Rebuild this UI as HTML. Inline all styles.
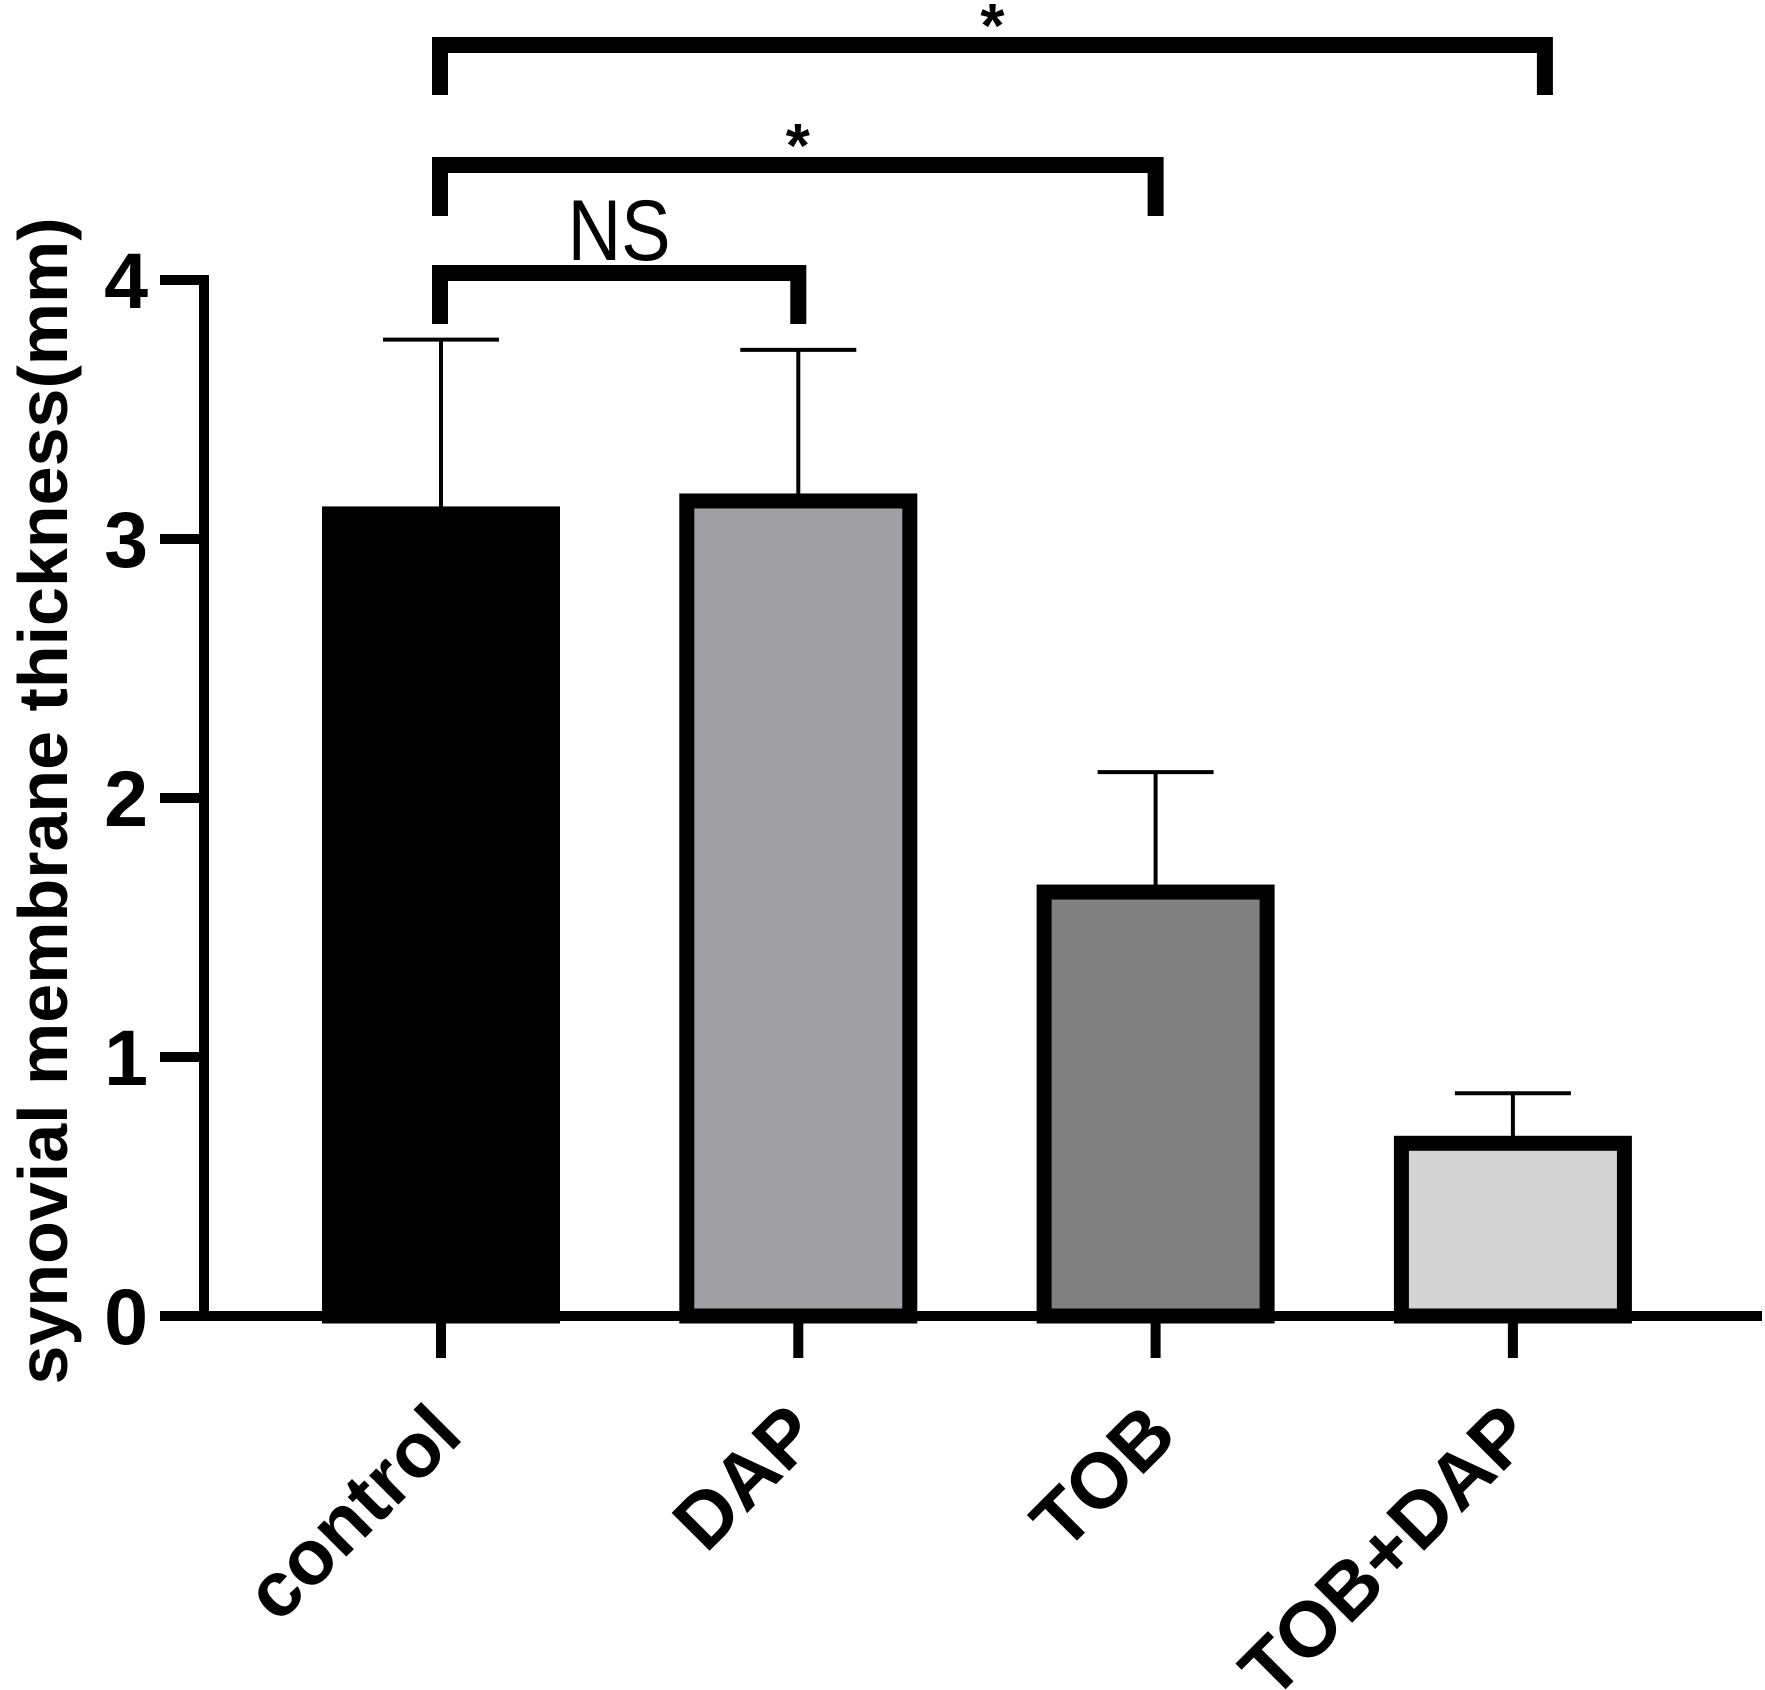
<!DOCTYPE html>
<html><head><meta charset="utf-8"><style>
html,body{margin:0;padding:0;background:#fff;}
svg{display:block;font-family:"Liberation Sans",Arial,sans-serif;}
</style></head><body>
<svg id="chart" width="1765" height="1690" viewBox="0 0 1765 1690" xmlns="http://www.w3.org/2000/svg">
<g id="plot"></g>
</svg>
<script>
const categories = ["control","DAP","TOB","TOB+DAP"];
const means = [3.12, 3.17, 1.66, 0.69];
const errors = [0.65, 0.56, 0.44, 0.17];
const fills = ["#000000","#a0a0a4","#808080","#d3d3d3"];
const yTicks = [0,1,2,3,4];
const yTickLabels = ["0","1","2","3","4"];
const comparisons = [
  {from:0, to:1, label:"NS"},
  {from:0, to:2, label:"*"},
  {from:0, to:3, label:"*"}
];

const NS="http://www.w3.org/2000/svg";
const svg=document.getElementById('plot');
const y0=1316, unit=259;
function yScale(v){return y0-v*unit;}
function xScale(i){return 441+i*357.3;}
function mk(tag,attrs,parent){const e=document.createElementNS(NS,tag);for(const k in attrs)e.setAttribute(k,attrs[k]);(parent||svg).appendChild(e);return e;}

// bars
categories.forEach((c,i)=>{
  const cx=xScale(i), w=223, top=yScale(means[i])+6;
  const g=mk('g',{});
  
  
  const r=mk('rect',{x:cx-w/2,y:top,width:w,height:y0-top,fill:fills[i],stroke:'#000','stroke-width':15},g);
  
  
  const et=yScale(means[i]+errors[i]);
  const l=mk('line',{x1:cx,x2:cx,y1:top-7,y2:et,stroke:'#000','stroke-width':4},g);
  
  
  const cap=mk('line',{x1:cx-58,x2:cx+58,y1:et,y2:et,stroke:'#000','stroke-width':4},g);
  
  
});

// axes
const ya=mk('line',{x1:204,x2:204,y1:yScale(4)-5,y2:y0+5,stroke:'#000','stroke-width':10});


const xa=mk('line',{x1:160,x2:1762,y1:y0,y2:y0,stroke:'#000','stroke-width':10});



yTicks.forEach((v,i)=>{
  const t=mk('line',{x1:160,x2:208,y1:yScale(v),y2:yScale(v),stroke:'#000','stroke-width':10});
  
  
  const tx=mk('text',{x:148,y:yScale(v)+28,'text-anchor':'end','font-size':79,'font-weight':'bold'});
  tx.textContent=yTickLabels[i];
  
  
});

categories.forEach((c,i)=>{
  const cx=xScale(i);
  const t=mk('line',{x1:cx,x2:cx,y1:y0,y2:1358,stroke:'#000','stroke-width':10});
  
  
  const ax=cx+24, ay=1438;
  const tx=mk('text',{x:ax,y:ay,'text-anchor':'end','font-size':78,'font-weight':'bold',transform:'rotate(-45 '+ax+' '+ay+')'});
  tx.textContent=c;
  
  
});

// y title
const yt=mk('text',{x:0,y:0,'text-anchor':'middle','font-size':70,'font-weight':'bold',transform:'translate(67 801) rotate(-90)'});
yt.textContent='synovial membrane thickness(mm)';



// significance brackets
const bracketY=[273,165,45];
const legBottom=[324,216,95];
comparisons.forEach((cmp,k)=>{
  const xl=xScale(cmp.from)-1, xr=xScale(cmp.to)+(k===2?32:0);
  const yb=bracketY[k];
  const p=mk('path',{d:'M'+xl+' '+legBottom[k]+' V'+yb+' H'+xr+' V'+legBottom[k],fill:'none',stroke:'#000','stroke-width':16,'stroke-linejoin':'miter','stroke-linecap':'butt'});
  
  
  const mid=(xl+xr)/2;
  let tx;
  if(cmp.label==='NS'){
    tx=mk('text',{x:mid,y:yb-13,'text-anchor':'middle','font-size':86,textLength:103,lengthAdjust:'spacingAndGlyphs'});
  }else{
    tx=mk('text',{x:mid,y:yb+2,'text-anchor':'middle','font-size':62,'font-weight':'bold'});
  }
  tx.textContent=cmp.label;
  
  
});
</script>
</body></html>
